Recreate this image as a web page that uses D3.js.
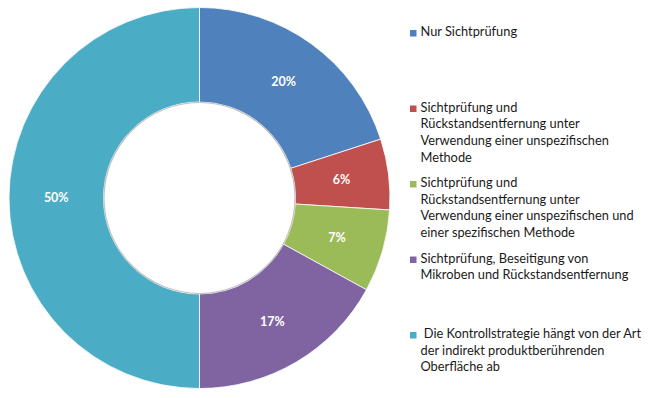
<!DOCTYPE html>
<html>
<head>
<meta charset="utf-8">
<script src="https://cdn.jsdelivr.net/npm/d3@7"></script>
<style>
  body { margin: 0; background: #fff; }
  svg { display: block; }
  .pct { font-family: Lato, "Open Sans", sans-serif; font-weight: bold; font-size: 12.5px; fill: #fff; }
  .leg { font-family: Lato, "Open Sans", sans-serif; font-size: 12.8px; fill: #1a1a1a; white-space: pre; }
</style>
</head>
<body>
<div id="chart"></div>
<script>
// slices, clockwise from 12 o'clock
var categories = [
  ["Nur Sichtprüfung"],
  ["Sichtprüfung und", "Rückstandsentfernung unter", "Verwendung einer unspezifischen", "Methode"],
  ["Sichtprüfung und", "Rückstandsentfernung unter", "Verwendung einer unspezifischen und", "einer spezifischen Methode"],
  ["Sichtprüfung, Beseitigung von", "Mikroben und Rückstandsentfernung"],
  [" Die Kontrollstrategie hängt von der Art", "der indirekt produktberührenden", "Oberfläche ab"]
];
var values = [20, 6, 7, 17, 50];
var colors = ["#4F81BD", "#C0504D", "#9BBB59", "#8064A2", "#4BACC6"];

var width = 650;
var height = 398;
var cx = 199.5;
var cy = 198;
var outer = 190.5;
var inner = 96;

var svg = d3.select("#chart")
  .append("svg")
    .attr("width", width)
    .attr("height", height);

var g = svg.append("g")
  .attr("transform", "translate(" + cx + "," + cy + ")");

var pie = d3.pie()
  .value(function(d) { return d; })
  .sort(null);

var arc = d3.arc()
  .innerRadius(inner)
  .outerRadius(outer);

var arcs = pie(values);

g.selectAll("path.slice")
  .data(arcs)
  .enter()
  .append("path")
    .attr("class", "slice")
    .attr("d", arc)
    .attr("fill", (d, i) => colors[i])
    .attr("stroke", "#fff")
    .attr("stroke-width", 0.8);

// soft shadow around the hole
g.append("circle")
  .attr("r", inner - 0.5)
  .attr("fill", "none")
  .attr("stroke", "#9a9a9a")
  .attr("stroke-opacity", 0.6)
  .attr("stroke-width", 1.2);

g.selectAll("text.pct")
  .data(arcs)
  .enter()
  .append("text")
    .attr("class", "pct")
    .attr("text-anchor", "middle")
    .attr("dy", "0.35em")
    .attr("transform", d => "translate(" + arc.centroid(d) + ")")
    .text(d => d.data + "%");

// legend
var legY = d3.scalePoint()
  .domain(d3.range(categories.length))
  .range([36, 338]);

var lineH = 16.7;

var leg = svg.selectAll("g.leg")
  .data(categories)
  .enter()
  .append("g")
    .attr("class", "leg-item")
    .attr("transform", (d, i) => "translate(410," + legY(i) + ")");

leg.append("rect")
  .attr("x", 0)
  .attr("y", -6)
  .attr("width", 6.5)
  .attr("height", 6.5)
  .attr("fill", (d, i) => colors[i]);

leg.append("text")
  .attr("class", "leg")
  .selectAll("tspan")
  .data(d => d)
  .enter()
  .append("tspan")
    .attr("x", 10.5)
    .attr("y", (d, j) => j * lineH)
    .text(d => d);
</script>
</body>
</html>
